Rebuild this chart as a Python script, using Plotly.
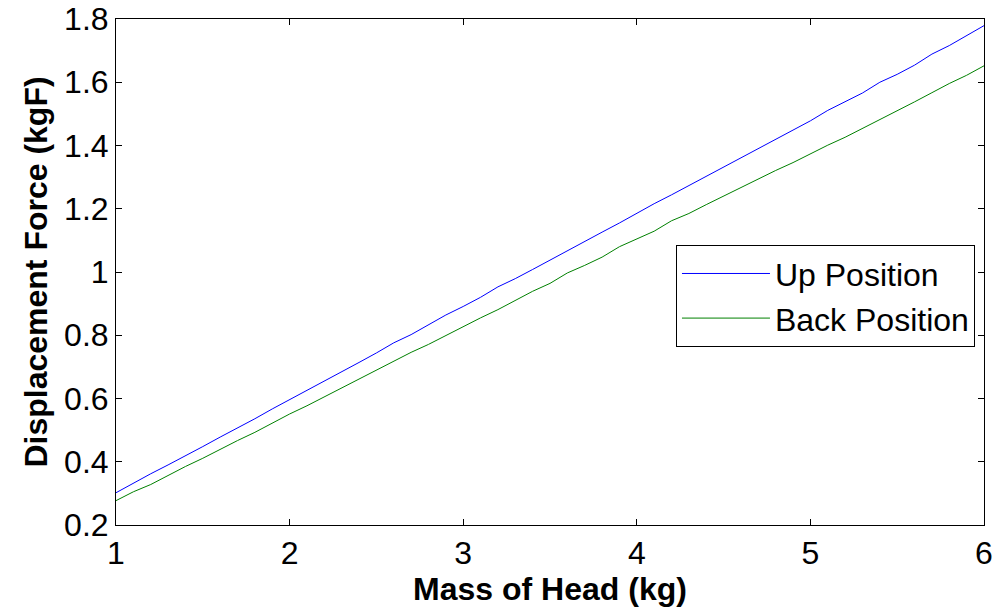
import plotly.graph_objects as go

mass = [1.0, 1.1, 1.2, 1.3, 1.4, 1.5, 1.6, 1.7, 1.8, 1.9,
        2.0, 2.1, 2.2, 2.3, 2.4, 2.5, 2.6, 2.7, 2.8, 2.9,
        3.0, 3.1, 3.2, 3.3, 3.4, 3.5, 3.6, 3.7, 3.8, 3.9,
        4.0, 4.1, 4.2, 4.3, 4.4, 4.5, 4.6, 4.7, 4.8, 4.9,
        5.0, 5.1, 5.2, 5.3, 5.4, 5.5, 5.6, 5.7, 5.8, 5.9, 6.0]

up_position = [0.302, 0.333, 0.362, 0.390, 0.418, 0.448, 0.478, 0.506, 0.536, 0.567,
               0.596, 0.625, 0.656, 0.684, 0.714, 0.744, 0.776, 0.802, 0.832, 0.864,
               0.891, 0.920, 0.953, 0.979, 1.008, 1.038, 1.066, 1.096, 1.126, 1.155,
               1.186, 1.216, 1.244, 1.273, 1.303, 1.331, 1.362, 1.391, 1.419, 1.449,
               1.478, 1.511, 1.538, 1.566, 1.600, 1.625, 1.654, 1.689, 1.716, 1.747, 1.779]

back_position = [0.277, 0.305, 0.328, 0.357, 0.385, 0.411, 0.440, 0.467, 0.493, 0.522,
                 0.551, 0.577, 0.605, 0.634, 0.660, 0.689, 0.716, 0.746, 0.771, 0.799,
                 0.829, 0.855, 0.881, 0.911, 0.939, 0.964, 0.997, 1.021, 1.047, 1.080,
                 1.105, 1.129, 1.162, 1.185, 1.213, 1.240, 1.266, 1.295, 1.321, 1.346,
                 1.374, 1.401, 1.426, 1.454, 1.482, 1.508, 1.538, 1.567, 1.596, 1.622, 1.652]

x_ticks = [1, 2, 3, 4, 5, 6]
y_ticks = [0.2, 0.4, 0.6, 0.8, 1.0, 1.2, 1.4, 1.6, 1.8]
y_tick_text = ["0.2", "0.4", "0.6", "0.8", "1", "1.2", "1.4", "1.6", "1.8"]

FONT = "Liberation Sans, Arial, sans-serif"
FS = 32

fig = go.Figure()
fig.add_trace(go.Scatter(x=mass, y=up_position, mode="lines", name="Up Position",
                         line=dict(color="rgb(0,0,255)", width=1)))
fig.add_trace(go.Scatter(x=mass, y=back_position, mode="lines", name="Back Position",
                         line=dict(color="rgb(0,128,0)", width=1)))

axis_common = dict(
    showline=True, linecolor="black", linewidth=1, mirror="allticks",
    ticks="inside", ticklen=6, tickcolor="black", tickwidth=1,
    showgrid=False, zeroline=False, automargin=False,
    tickfont=dict(family=FONT, size=FS, color="black"),
)

fig.update_layout(
    width=1002, height=607,
    paper_bgcolor="white", plot_bgcolor="white",
    margin=dict(l=116, r=18, t=19, b=82),
    showlegend=True,
    legend=dict(
        x=0.9896, y=0.553, xanchor="right", yanchor="top",
        bgcolor="white", bordercolor="black", borderwidth=1,
        font=dict(family=FONT, size=FS, color="black"),
        itemwidth=88, tracegroupgap=0,
    ),
    xaxis=dict(range=[1, 6], tickvals=x_ticks,
               title=dict(text="<b>Mass of Head (kg)</b>", standoff=0,
                          font=dict(family=FONT, size=FS, color="black")),
               **axis_common),
    yaxis=dict(range=[0.2, 1.8], tickvals=y_ticks, ticktext=y_tick_text,
               title=dict(text="<b>Displacement Force (kgF)</b>", standoff=6,
                          font=dict(family=FONT, size=FS, color="black")),
               **axis_common),
)

fig.write_html("out.html", config={"displayModeBar": False},
               post_script="document.body.style.margin='0';")
